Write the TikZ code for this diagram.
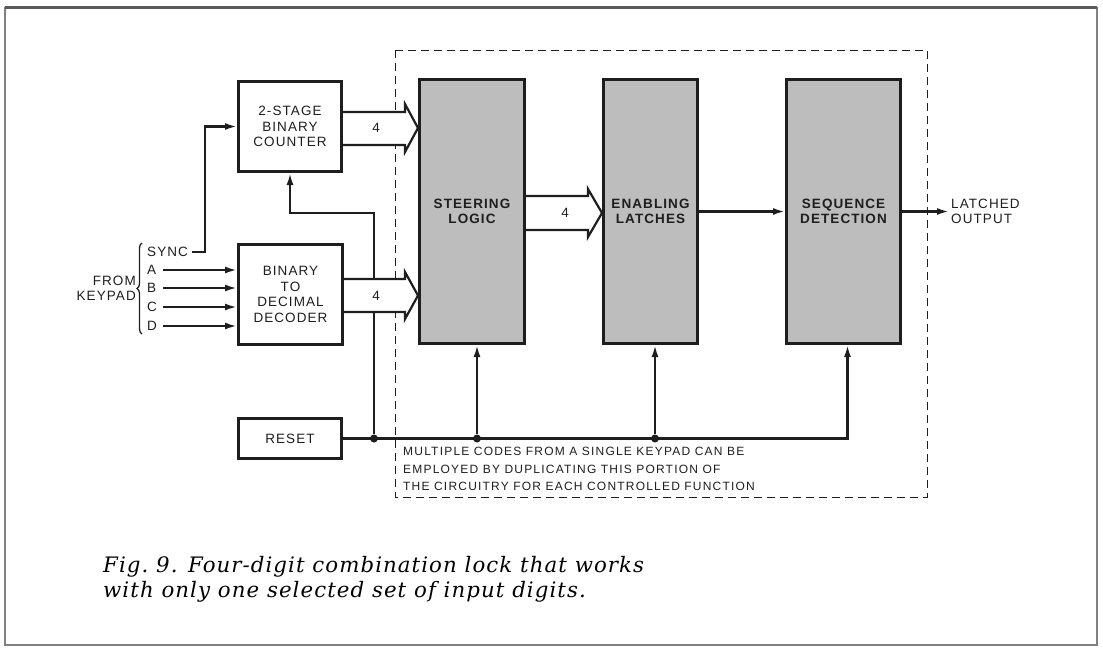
\documentclass[tikz,border=0pt]{standalone}
\usepackage{fontspec}
\setmainfont{Liberation Serif}
\newfontfamily\lockfont[LetterSpace=8]{Liberation Sans}
\newfontfamily\lockcapfont[LetterSpace=10]{Liberation Sans}
\newfontfamily\captionfont[LetterSpace=5]{DejaVu Serif}
\usetikzlibrary{arrows.meta,calc,decorations.pathreplacing}
\definecolor{LockInk}{HTML}{1E1E1E}
\definecolor{LockGray}{HTML}{BDBDBD}
\definecolor{LockFrame}{HTML}{808080}
\tikzset{
  lock block/.style={
    draw=LockInk,
    line width=2.6pt,
    fill=white,
    inner sep=0pt,
    align=center,
    text=LockInk,
    font=\lockfont\fontsize{13.5}{15.5}\selectfont
  },
  lock logic/.style={
    lock block,
    fill=LockGray,
    font=\lockfont\bfseries\fontsize{13.5}{15.5}\selectfont
  },
  lock label/.style={
    inner sep=0pt,
    text=LockInk,
    font=\lockfont\fontsize{13.5}{15}\selectfont
  },
  lock wire/.style={draw=LockInk, line width=2.2pt},
  lock arr/.style={lock wire, -{Latex[length=12pt, width=7pt]}},
  lock bus/.style={lock wire, fill=white, line join=miter},
  lock dot/.style={circle, fill=LockInk, inner sep=0pt, minimum size=8pt},
  lock dash/.style={draw=LockInk, line width=1pt, dash pattern=on 8pt off 5pt}
}
\begin{document}
\begin{tikzpicture}[x=1pt, y=-1pt]
  \useasboundingbox (0,0) rectangle (1103,651);
  \draw[LockFrame, line width=2pt] (5,8) rectangle (1097,645);
  \draw[LockFrame!70!black, line width=3pt] (5,7) -- (1097,7);

  \draw[lock dash] (395,50) rectangle (927,497);

  \node[lock block, minimum width=103.4pt, minimum height=90.4pt] (counter)
    at (290,126.5) {2-STAGE\\BINARY\\COUNTER};
  \node[lock block, minimum width=104.4pt, minimum height=100.4pt] (decoder)
    at (290.5,294.5) {BINARY\\TO\\DECIMAL\\DECODER};
  \node[lock block, minimum width=103.4pt, minimum height=40.4pt] (reset)
    at (290,438.5) {RESET};

  \node[lock logic, minimum width=105.4pt, minimum height=264.4pt] (steer)
    at (472,211.5) {STEERING\\LOGIC};
  \node[lock logic, minimum width=94.4pt, minimum height=264.4pt] (latch)
    at (650.5,211.5) {ENABLING\\LATCHES};
  \node[lock logic, minimum width=114.4pt, minimum height=264.4pt] (seqdet)
    at (843.5,211.5) {SEQUENCE\\DETECTION};

  \node[lock label, anchor=west] (sync) at (147,252) {SYNC};
  \foreach \name/\y in {A/270,B/288,C/307,D/326}{
    \node[lock label, anchor=west] (in\name) at (147,\y) {\name};
    \draw[lock arr] ([xshift=16pt]in\name.west) -- (decoder.west |- 0,\y);
  }
  \draw[lock wire, line width=1.3pt, decorate, decoration={brace, amplitude=5pt}]
    (142,334) -- (142,243);
  \node[lock label, anchor=east, align=right] (keypad) at (136,288.5)
    {FROM\\KEYPAD};

  \draw[lock arr] ([xshift=4pt]sync.east) -| ([xshift=-32pt]counter.west)
    -- (counter.west);

  \node[lock dot] (j1) at (374,438.5) {};
  \node[lock dot] (j2) at (477,438.5) {};
  \node[lock dot] (j3) at (655,438.5) {};
  \draw[lock arr] (reset.east) -| ([xshift=4pt]seqdet.south);
  \draw[lock arr] (j2) -- (j2 |- steer.south);
  \draw[lock arr] (j3) -- (j3 |- latch.south);
  \draw[lock arr] (j1) -- (j1 |- 0,213) -| (counter.south);

  \draw[lock bus] (counter.east |- 0,112) -- (405,112) -- (405,104)
    -- (steer.west |- 0,128) -- (405,152) -- (405,145) -- (counter.east |- 0,145);
  \node[lock label] (bus1) at (376,128) {4};
  \draw[lock bus] (decoder.east |- 0,279) -- (405,279) -- (405,272)
    -- (steer.west |- 0,295.5) -- (405,319) -- (405,312) -- (decoder.east |- 0,312);
  \node[lock label] (bus2) at (376,295.5) {4};
  \draw[lock bus] (steer.east |- 0,196) -- (588,196) -- (588,189)
    -- (latch.west |- 0,213) -- (588,237) -- (588,230) -- (steer.east |- 0,230);
  \node[lock label] (bus3) at (565,213) {4};

  \draw[lock arr] (latch.east) -- (seqdet.west);
  \node[lock label, anchor=west, align=left] (latched) at (951,211.5)
    {LATCHED\\OUTPUT};
  \draw[lock arr, shorten >=2pt] (seqdet.east) -- (latched.west);

  \node[lock label, anchor=north west, align=left,
    font=\lockcapfont\fontsize{12}{17.5}\selectfont] (note) at (403,447)
    {MULTIPLE CODES FROM A SINGLE KEYPAD CAN BE\\
     EMPLOYED BY DUPLICATING THIS PORTION OF\\
     THE CIRCUITRY FOR EACH CONTROLLED FUNCTION};

  \node[anchor=north west, align=left, inner sep=0pt,
    font=\captionfont\itshape\fontsize{21.3}{25}\selectfont] (caption) at (103,556)
    {Fig.\ 9. Four-digit combination lock that works\\
     with only one selected set of input digits.};
\end{tikzpicture}
\end{document}
